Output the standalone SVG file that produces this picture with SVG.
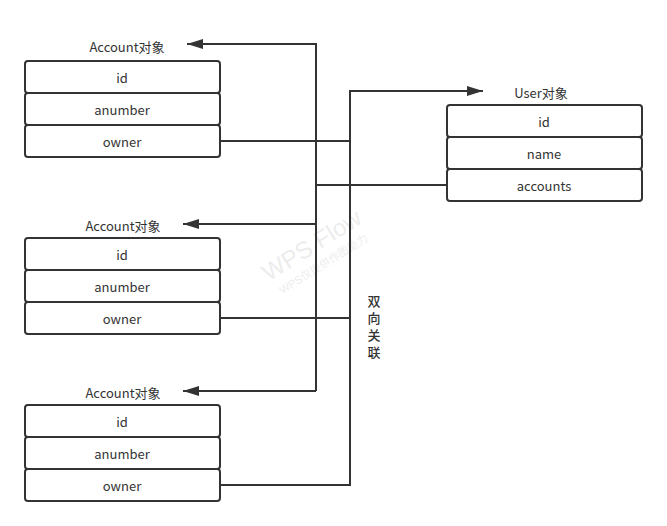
<svg xmlns="http://www.w3.org/2000/svg" width="667" height="526" viewBox="0 0 667 526">
<defs>
<style>
.box{fill:#fff;stroke:#333;stroke-width:2}
.t{font-family:"Noto Sans CJK SC","Liberation Sans",sans-serif;font-size:13px;fill:#333;text-anchor:middle;dominant-baseline:central}
.c{fill:none;stroke:#333;stroke-width:2}
.wm{font-family:"Liberation Sans","Noto Sans CJK SC",sans-serif;fill:#000;opacity:0.07;text-anchor:middle}
</style>
<marker id="ah" viewBox="0 0 16 10" refX="16" refY="5" markerWidth="16" markerHeight="10" markerUnits="userSpaceOnUse" orient="auto">
<path d="M0,0 L16,5 L0,10 Z" fill="#333"/>
</marker>
</defs>
<rect width="667" height="526" fill="#fff"/>
<g id="watermark" transform="translate(316,252) rotate(-32)">
<text class="wm" x="0" y="0" font-size="24">WPS Flow</text>
<text class="wm" x="0" y="18" font-size="11">WPS仅提供作图能力</text>
</g>
<g id="connectors">
<path class="c" d="M316,391 L316,44 L187,44" marker-end="url(#ah)"/>
<path class="c" d="M316,224 L183,224" marker-end="url(#ah)"/>
<path class="c" d="M316,391 L183,391" marker-end="url(#ah)"/>
<path class="c" d="M447,185 L316,185"/>
<path class="c" d="M220,141 L350,141"/>
<path class="c" d="M220,318 L350,318"/>
<path class="c" d="M220,485 L350,485 L350,91 L483,91" marker-end="url(#ah)"/>
</g>
<g id="account1">
<text class="t" x="127" y="46">Account对象</text>
<rect class="box" x="25" y="61" width="195" height="32" rx="3"/>
<text class="t" x="122" y="77">id</text>
<rect class="box" x="25" y="93" width="195" height="32" rx="3"/>
<text class="t" x="122" y="109">anumber</text>
<rect class="box" x="25" y="125" width="195" height="32" rx="3"/>
<text class="t" x="122" y="141">owner</text>
</g>
<g id="account2">
<text class="t" x="123" y="225">Account对象</text>
<rect class="box" x="25" y="238" width="195" height="32" rx="3"/>
<text class="t" x="122" y="254">id</text>
<rect class="box" x="25" y="270" width="195" height="32" rx="3"/>
<text class="t" x="122" y="286">anumber</text>
<rect class="box" x="25" y="302" width="195" height="32" rx="3"/>
<text class="t" x="122" y="318">owner</text>
</g>
<g id="account3">
<text class="t" x="123" y="392">Account对象</text>
<rect class="box" x="25" y="405" width="195" height="32" rx="3"/>
<text class="t" x="122" y="421">id</text>
<rect class="box" x="25" y="437" width="195" height="32" rx="3"/>
<text class="t" x="122" y="453">anumber</text>
<rect class="box" x="25" y="469" width="195" height="32" rx="3"/>
<text class="t" x="122" y="485">owner</text>
</g>
<g id="user">
<text class="t" x="541" y="92">User对象</text>
<rect class="box" x="447" y="105" width="195" height="32" rx="3"/>
<text class="t" x="544" y="121">id</text>
<rect class="box" x="447" y="137" width="195" height="32" rx="3"/>
<text class="t" x="544" y="153">name</text>
<rect class="box" x="447" y="169" width="195" height="32" rx="3"/>
<text class="t" x="544" y="185">accounts</text>
</g>
<g id="label">
<text x="374" y="295" writing-mode="vertical-rl" letter-spacing="4" font-family="'Noto Sans CJK SC',sans-serif" font-size="13" font-weight="500" fill="#333">双向关联</text>
</g>
</svg>
